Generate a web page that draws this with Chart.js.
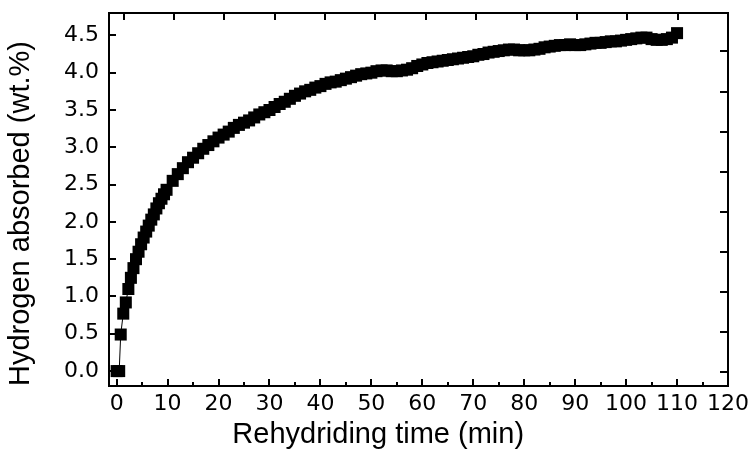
<!DOCTYPE html>
<html>
<head>
<meta charset="utf-8">
<script src="https://cdn.jsdelivr.net/npm/chart.js@4.4.1/dist/chart.umd.min.js"></script>
<style>
  html, body { margin: 0; padding: 0; background: #fff; }
  #wrap { width: 751px; height: 452px; }
</style>
</head>
<body>
<div id="wrap"><canvas id="rehyd"></canvas></div>
<script>
// rehydriding time (min) and hydrogen absorbed (wt.%)
var timeMin = [0, 0.5, 0.8, 1.3, 1.8, 2.3, 2.8, 3.3, 3.8, 4.3, 4.8, 5.3, 5.8, 6.3, 6.8, 7.3, 7.8, 8.3, 8.8, 9.3, 9.8,
  11, 12, 13, 14, 15, 16, 17, 18, 19, 20, 21, 22, 23, 24, 25, 26, 27, 28, 29, 30,
  31, 32, 33, 34, 35, 36, 37, 38, 39, 40, 41, 42, 43, 44, 45, 46, 47, 48, 49, 50,
  51, 52, 53, 54, 55, 56, 57, 58, 59, 60, 61, 62, 63, 64, 65, 66, 67, 68, 69, 70,
  71, 72, 73, 74, 75, 76, 77, 78, 79, 80, 81, 82, 83, 84, 85, 86, 87, 88, 89, 90,
  91, 92, 93, 94, 95, 96, 97, 98, 99, 100, 101, 102, 103, 104, 105, 106, 107, 108, 109, 110];
var h2Wt = [0.00, 0.00, 0.49, 0.77, 0.92, 1.10, 1.25, 1.38, 1.50, 1.60, 1.70, 1.79, 1.87, 1.95, 2.03, 2.10, 2.18, 2.25, 2.31, 2.37, 2.43,
  2.55, 2.64, 2.72, 2.80, 2.86, 2.92, 2.98, 3.03, 3.08, 3.13, 3.17, 3.21, 3.26, 3.30, 3.33, 3.36, 3.40, 3.44, 3.47, 3.50,
  3.54, 3.58, 3.61, 3.65, 3.69, 3.72, 3.75, 3.77, 3.80, 3.82, 3.85, 3.87, 3.88, 3.90, 3.92, 3.94, 3.96, 3.98, 3.99, 4.00,
  4.02, 4.03, 4.03, 4.02, 4.02, 4.03, 4.04, 4.06, 4.09, 4.11, 4.13, 4.14, 4.15, 4.16, 4.17, 4.18, 4.19, 4.20, 4.21, 4.22,
  4.24, 4.25, 4.27, 4.28, 4.29, 4.30, 4.31, 4.31, 4.30, 4.30, 4.30, 4.31, 4.32, 4.34, 4.35, 4.36, 4.37, 4.37, 4.38, 4.37,
  4.37, 4.38, 4.39, 4.40, 4.40, 4.41, 4.42, 4.42, 4.43, 4.44, 4.45, 4.46, 4.47, 4.47, 4.45, 4.44, 4.44, 4.45, 4.47, 4.53];

// tick positions (x has labelled majors every 10, unlabelled minors every 5)
var xTicks = [0, 5, 10, 15, 20, 25, 30, 35, 40, 45, 50, 55, 60, 65, 70, 75, 80, 85, 90, 95, 100, 105, 110, 115, 120];
var yTicks = [0, 0.5, 1.0, 1.5, 2.0, 2.5, 3.0, 3.5, 4.0, 4.5];
// mirror ticks on top/right frame (unlabelled, spaced as in the picture)
var topTicks = [0, 1, 2, 3, 4, 5, 6, 7, 8, 9, 10, 11];
var rightTicks = [0, 1, 2, 3, 4, 5, 6, 7, 8];

// trailing spaces nudge the centred title left, as it sits in the original
var xTitle = 'Rehydriding time (min)          ';
var yTitle = 'Hydrogen absorbed (wt.%)';

var points = timeMin.map((t, i) => ({ x: t, y: h2Wt[i] }));
var asTicks = arr => (sc => { sc.ticks = arr.map(v => ({ value: v })); });

// inward tick marks on all four sides of the frame
var inTicks = {
  id: 'inTicks',
  afterDatasetsDraw(chart) {
    const ctx = chart.ctx;
    const a = chart.chartArea;
    const s = chart.scales;
    ctx.save();
    ctx.strokeStyle = '#000';
    ctx.lineWidth = 2;
    ctx.beginPath();
    s.x.ticks.forEach(t => {
      const px = Math.round(s.x.getPixelForValue(t.value));
      const len = (t.value % 10 === 0) ? 7 : 4;
      ctx.moveTo(px, a.bottom); ctx.lineTo(px, a.bottom - len);
    });
    s.y.ticks.forEach(t => {
      const py = Math.round(s.y.getPixelForValue(t.value));
      ctx.moveTo(a.left, py); ctx.lineTo(a.left + 7, py);
    });
    s.x2.ticks.forEach(t => {
      const px = Math.round(s.x2.getPixelForValue(t.value));
      ctx.moveTo(px, a.top); ctx.lineTo(px, a.top + 7);
    });
    s.y2.ticks.forEach(t => {
      const py = Math.round(s.y2.getPixelForValue(t.value));
      ctx.moveTo(a.right, py); ctx.lineTo(a.right - 8, py);
    });
    ctx.stroke();
    ctx.restore();
  }
};

var tickFont = { family: 'DejaVu Sans', size: 22 };
var titleFont = { family: 'Liberation Sans', size: 29 };

new Chart(document.getElementById('rehyd'), {
  type: 'scatter',
  data: {
    datasets: [{
      data: points,
      showLine: true,
      borderColor: '#000',
      borderWidth: 1,
      pointStyle: 'rect',
      pointRadius: 8.5,
      pointBorderWidth: 0,
      pointBackgroundColor: '#000'
    }]
  },
  options: {
    responsive: true,
    maintainAspectRatio: false,
    animation: false,
    layout: { padding: { top: 13, right: 23, left: 0, bottom: 0 } },
    plugins: { legend: { display: false }, tooltip: { enabled: false } },
    scales: {
      x: {
        type: 'linear', position: 'bottom', min: -1.5, max: 120,
        afterBuildTicks: asTicks(xTicks),
        afterFit: sc => { sc.height = 66; sc.paddingLeft = 0; sc.paddingRight = 0; },
        grid: { drawOnChartArea: false, drawTicks: false },
        border: { display: true, width: 2, color: '#000' },
        ticks: {
          autoSkip: false, maxRotation: 0, padding: 5,
          color: '#000', font: tickFont,
          callback: v => (v % 10 === 0 ? String(v) : '')
        },
        title: { display: true, text: xTitle, color: '#000', font: titleFont, padding: { top: 0, bottom: 0 } }
      },
      y: {
        type: 'linear', position: 'left', min: -0.2, max: 4.8,
        afterBuildTicks: asTicks(yTicks),
        afterFit: sc => { sc.width = 109; sc.paddingTop = 0; sc.paddingBottom = 0; },
        grid: { drawOnChartArea: false, drawTicks: false },
        border: { display: true, width: 2, color: '#000' },
        ticks: {
          autoSkip: false, padding: 10,
          color: '#000', font: tickFont,
          callback: v => Number(v).toFixed(1)
        },
        title: { display: true, text: yTitle, align: 'start', color: '#000', font: titleFont, padding: { top: 4, bottom: 0 } }
      },
      x2: {
        type: 'linear', position: 'top', min: -0.29, max: 12,
        afterBuildTicks: asTicks(topTicks),
        afterFit: sc => { sc.height = 0; sc.paddingLeft = 0; sc.paddingRight = 0; },
        grid: { drawOnChartArea: false, drawTicks: false },
        border: { display: true, width: 2, color: '#000' },
        ticks: { display: false }
      },
      y2: {
        type: 'linear', position: 'right', min: -0.35, max: 8.96,
        afterBuildTicks: asTicks(rightTicks),
        afterFit: sc => { sc.width = 0; sc.paddingTop = 0; sc.paddingBottom = 0; },
        grid: { drawOnChartArea: false, drawTicks: false },
        border: { display: true, width: 2, color: '#000' },
        ticks: { display: false }
      }
    }
  },
  plugins: [inTicks]
});
</script>
</body>
</html>
